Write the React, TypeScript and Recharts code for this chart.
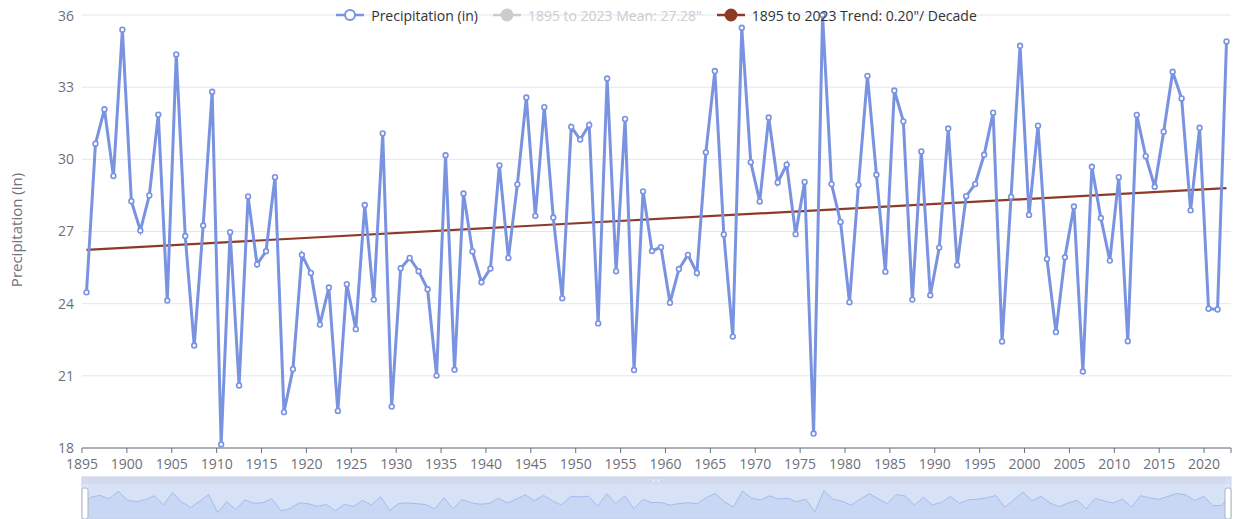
import React from "react";
import {
  LineChart,
  Line,
  XAxis,
  YAxis,
  CartesianGrid,
  Legend,
  Brush,
  AreaChart,
  Area,
  Label,
} from "recharts";

const LINE_COLOR = "#7a93e1";
const TREND_COLOR = "#8f3a26";
const MUTED = "#cccccc";
const AXIS_TEXT = "#6E7079";

const firstYear = 1895;

// annual precipitation (in), 1895 - 2022
const precipitation = [
  // 1895-1904
  24.47, 30.65, 32.08, 29.31, 35.39, 28.26, 27.04, 28.5, 31.86, 24.13,
  // 1905-1914
  34.36, 26.81, 22.26, 27.25, 32.81, 18.15, 26.97, 20.6, 28.46, 25.63,
  // 1915-1924
  26.18, 29.26, 19.49, 21.28, 26.03, 25.28, 23.13, 24.67, 19.54, 24.81,
  // 1925-1934
  22.94, 28.1, 24.17, 31.08, 19.72, 25.47, 25.9, 25.35, 24.6, 21.01,
  // 1935-1944
  30.17, 21.25, 28.58, 26.17, 24.89, 25.46, 29.75, 25.9, 28.96, 32.57,
  // 1945-1954
  27.65, 32.17, 27.58, 24.22, 31.35, 30.82, 31.43, 23.18, 33.36, 25.35,
  // 1955-1964
  31.68, 21.24, 28.67, 26.19, 26.35, 24.04, 25.44, 26.03, 25.28, 30.29,
  // 1965-1974
  33.67, 26.88, 22.63, 35.47, 29.88, 28.25, 31.74, 29.04, 29.78, 26.89,
  // 1975-1984
  29.06, 18.6, 36.0, 28.97, 27.4, 24.06, 28.94, 33.47, 29.36, 25.33,
  // 1985-1994
  32.86, 31.58, 24.17, 30.33, 24.35, 26.33, 31.28, 25.6, 28.47, 28.97,
  // 1995-2004
  30.19, 31.94, 22.43, 28.44, 34.72, 27.69, 31.4, 25.86, 22.82, 25.93,
  // 2005-2014
  28.04, 21.18, 29.69, 27.56, 25.79, 29.26, 22.44, 31.85, 30.13, 28.86,
  // 2015-2022
  31.15, 33.64, 32.53, 27.88, 31.31, 23.79, 23.76, 34.9,
];

// linear trend, value at first and last year
const trendEnds = [26.24, 28.8];
const meanValue = "27.28";
const trendPerDecade = "0.20";

const tickYears = [
  1895, 1900, 1905, 1910, 1915, 1920, 1925, 1930, 1935, 1940, 1945, 1950, 1955,
  1960, 1965, 1970, 1975, 1980, 1985, 1990, 1995, 2000, 2005, 2010, 2015, 2020,
];
const axisEnd = 2023;
const yTicks = [18, 21, 24, 27, 30, 33, 36];

const legendItems = [
  { label: "Precipitation (in)", color: LINE_COLOR, hollow: true, muted: false },
  { label: `1895 to 2023 Mean: ${meanValue}"`, color: MUTED, hollow: false, muted: true },
  { label: `1895 to 2023 Trend: ${trendPerDecade}"/ Decade`, color: TREND_COLOR, hollow: false, muted: false },
];

const rows = precipitation.map((p, i) => ({
  year: firstYear + i,
  precip: p,
  trend: i === 0 ? trendEnds[0] : i === precipitation.length - 1 ? trendEnds[1] : null,
}));

const renderLegend = () => (
  <div
    style={{
      display: "flex",
      justifyContent: "center",
      alignItems: "center",
      height: 14,
      fontSize: 14,
      whiteSpace: "nowrap",
    }}
  >
    {legendItems.map((item, i) => (
      <div
        key={item.label}
        style={{
          display: "flex",
          alignItems: "center",
          marginLeft: i ? 15 : 0,
          color: item.muted ? MUTED : "#333",
        }}
      >
        <svg width={28} height={14}>
          <line x1={0} x2={28} y1={7} y2={7} stroke={item.color} strokeWidth={2.5} />
          <circle
            cx={14}
            cy={7}
            r={item.hollow ? 5 : 5.5}
            fill={item.hollow ? "#fff" : item.color}
            stroke={item.color}
            strokeWidth={2}
          />
        </svg>
        <span style={{ marginLeft: 7 }}>{item.label}</span>
      </div>
    ))}
  </div>
);

const XTick = ({ x, y, payload }: any) => {
  if (!tickYears.includes(payload.value)) return null;
  return (
    <text x={x} y={y} dy={14} textAnchor="middle" fill={AXIS_TEXT} fontSize={14}>
      {payload.value}
    </text>
  );
};

const renderTraveller = (props: any) => (
  <rect
    x={props.x}
    y={props.y + 11}
    width={props.width}
    height={props.height - 11}
    rx={2}
    fill="#fff"
    stroke="#a9b4c8"
    strokeWidth={1}
  />
);

export default function App() {
  return (
    <div
      style={{
        position: "relative",
        width: 1233,
        height: 511,
        fontFamily: "'Open Sans', sans-serif",
      }}
    >
      <style>{`.recharts-surface { overflow: visible; }`}</style>
      {/* slider background + data shadow, drawn under the main chart */}
      <div
        style={{
          position: "absolute",
          left: 74,
          top: 469,
          width: 1149,
          height: 7,
          background: "#d6dded",
        }}
      >
        <div
          style={{
            position: "absolute",
            left: 571,
            top: 2,
            width: 4,
            height: 3,
            borderLeft: "1px solid #fff",
            borderRight: "1px solid #fff",
          }}
        />
      </div>
      <div
        style={{
          position: "absolute",
          left: 74,
          top: 476,
          width: 1149,
          height: 35,
          background: "#dde6fa",
        }}
      >
        <AreaChart
          width={1149}
          height={35}
          data={rows}
          margin={{ top: 0, right: 0, bottom: 0, left: 0 }}
        >
          <XAxis dataKey="year" hide />
          <YAxis hide domain={[12.8, 41.4]} />
          <Area
            dataKey="precip"
            stroke="#9fb6ef"
            strokeWidth={1}
            fill="#cad9f6"
            fillOpacity={1}
            dot={false}
            activeDot={false}
            isAnimationActive={false}
          />
        </AreaChart>
      </div>
      <LineChart
        width={1233}
        height={511}
        data={rows}
        margin={{ top: 7, right: 10, left: 0, bottom: 0 }}
      >
        <CartesianGrid vertical={false} stroke="#E0E6F1" />
        <XAxis
          type="number"
          dataKey={(d: any) => d.year + 0.5}
          domain={[firstYear, axisEnd]}
          ticks={[...tickYears, axisEnd]}
          interval={0}
          height={29}
          tickSize={5}
          tickMargin={2}
          stroke={AXIS_TEXT}
          tick={<XTick />}
        />
        <YAxis
          width={74}
          domain={[18, 36]}
          ticks={yTicks}
          axisLine={false}
          tickLine={false}
          tickSize={0}
          tickMargin={8}
          tick={{ fill: AXIS_TEXT, fontSize: 14 }}
        >
          <Label
            content={() => (
              <text
                transform="translate(8, 222) rotate(-90)"
                textAnchor="middle"
                dominantBaseline="central"
                fill={AXIS_TEXT}
                fontSize={15}
              >
                Precipitation (in)
              </text>
            )}
          />
        </YAxis>
        <Legend
          verticalAlign="middle"
          layout="horizontal"
          align="center"
          content={renderLegend}
          wrapperStyle={{ top: 0, left: 74, width: 1149 }}
        />
        <Line
          dataKey="trend"
          stroke={TREND_COLOR}
          strokeWidth={2.2}
          dot={false}
          activeDot={false}
          connectNulls
          isAnimationActive={false}
        />
        <Line
          dataKey="precip"
          stroke={LINE_COLOR}
          strokeWidth={3}
          dot={{ r: 2.4, fill: "#fff", stroke: LINE_COLOR, strokeWidth: 1.6 }}
          activeDot={false}
          isAnimationActive={false}
        />
        <Brush
          dataKey="year"
          y={469}
          height={42}
          travellerWidth={6}
          fill="transparent"
          stroke="#c5d1ec"
          traveller={renderTraveller}
        />
      </LineChart>
    </div>
  );
}
